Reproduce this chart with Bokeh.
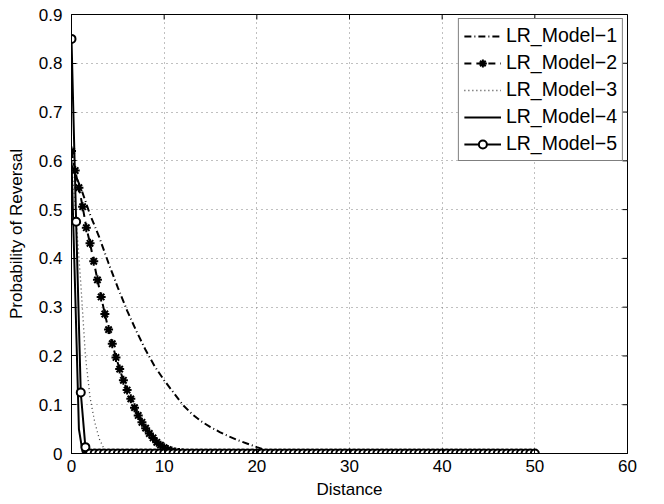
import math
from bokeh.plotting import figure
from bokeh.models import FixedTicker, Range1d
from bokeh.embed import file_html
from bokeh.resources import INLINE

# ---------------- data ----------------
names = ["LR_Model\u22121", "LR_Model\u22122", "LR_Model\u22123", "LR_Model\u22124", "LR_Model\u22125"]

x_ticks = [0, 10, 20, 30, 40, 50, 60]
y_ticks = [0, 0.1, 0.2, 0.3, 0.4, 0.5, 0.6, 0.7, 0.8, 0.9]
y_tick_labels = ["0", "0.1", "0.2", "0.3", "0.4", "0.5", "0.6", "0.7", "0.8", "0.9"]

# sampling grids (distance values)
x1 = [i * 1.0 for i in range(51)]
x2 = [round(i * 0.4, 1) for i in range(101)]
x3 = [round(i * 0.5, 1) for i in range(101)]
x4 = [round(i * 0.4, 1) for i in range(101)]
x5 = [round(i * 0.5, 1) for i in range(101)]

y1 = [0.59, 0.545, 0.49, 0.443, 0.39, 0.34, 0.293, 0.251, 0.212, 0.178,
      0.15, 0.125, 0.1, 0.081, 0.066, 0.054, 0.044, 0.035, 0.027, 0.02,
      0.013, 0.007, 0.003, 0.001, 0, 0, 0, 0, 0, 0,
      0, 0, 0, 0, 0, 0, 0, 0, 0, 0,
      0, 0, 0, 0, 0, 0, 0, 0, 0, 0,
      0]

y2 = [0.62, 0.58, 0.545, 0.506, 0.463, 0.431, 0.394, 0.356, 0.321, 0.286,
      0.254, 0.225, 0.197, 0.173, 0.150, 0.130, 0.112, 0.094, 0.078, 0.064,
      0.052, 0.041, 0.032, 0.023, 0.017, 0.012, 0.008, 0.005, 0.003, 0.002,
      0.001, 0, 0, 0, 0, 0, 0, 0, 0, 0,
      0, 0, 0, 0, 0, 0, 0, 0, 0, 0,
      0, 0, 0, 0, 0, 0, 0, 0, 0, 0,
      0, 0, 0, 0, 0, 0, 0, 0, 0, 0,
      0, 0, 0, 0, 0, 0, 0, 0, 0, 0,
      0, 0, 0, 0, 0, 0, 0, 0, 0, 0,
      0, 0, 0, 0, 0, 0, 0, 0, 0, 0,
      0]

y3 = [0.6, 0.48, 0.35, 0.2, 0.115, 0.065, 0.03, 0.01, 0.002, 0,
      0, 0, 0, 0, 0, 0, 0, 0, 0, 0,
      0, 0, 0, 0, 0, 0, 0, 0, 0, 0,
      0, 0, 0, 0, 0, 0, 0, 0, 0, 0,
      0, 0, 0, 0, 0, 0, 0, 0, 0, 0,
      0, 0, 0, 0, 0, 0, 0, 0, 0, 0,
      0, 0, 0, 0, 0, 0, 0, 0, 0, 0,
      0, 0, 0, 0, 0, 0, 0, 0, 0, 0,
      0, 0, 0, 0, 0, 0, 0, 0, 0, 0,
      0, 0, 0, 0, 0, 0, 0, 0, 0, 0,
      0]

y4 = [0.6, 0.33, 0.05, 0.003, 0, 0, 0, 0, 0, 0,
      0, 0, 0, 0, 0, 0, 0, 0, 0, 0,
      0, 0, 0, 0, 0, 0, 0, 0, 0, 0,
      0, 0, 0, 0, 0, 0, 0, 0, 0, 0,
      0, 0, 0, 0, 0, 0, 0, 0, 0, 0,
      0, 0, 0, 0, 0, 0, 0, 0, 0, 0,
      0, 0, 0, 0, 0, 0, 0, 0, 0, 0,
      0, 0, 0, 0, 0, 0, 0, 0, 0, 0,
      0, 0, 0, 0, 0, 0, 0, 0, 0, 0,
      0, 0, 0, 0, 0, 0, 0, 0, 0, 0,
      0]

y5 = [0.85, 0.475, 0.125, 0.013, 0, 0, 0, 0, 0, 0,
      0, 0, 0, 0, 0, 0, 0, 0, 0, 0,
      0, 0, 0, 0, 0, 0, 0, 0, 0, 0,
      0, 0, 0, 0, 0, 0, 0, 0, 0, 0,
      0, 0, 0, 0, 0, 0, 0, 0, 0, 0,
      0, 0, 0, 0, 0, 0, 0, 0, 0, 0,
      0, 0, 0, 0, 0, 0, 0, 0, 0, 0,
      0, 0, 0, 0, 0, 0, 0, 0, 0, 0,
      0, 0, 0, 0, 0, 0, 0, 0, 0, 0,
      0, 0, 0, 0, 0, 0, 0, 0, 0, 0,
      0]

FONT = "Liberation Sans"
X_MIN, X_MAX = x_ticks[0], x_ticks[-1]
Y_MIN, Y_MAX = y_ticks[0], y_ticks[-1]

p = figure(width=664, height=504, output_backend="svg", toolbar_location=None,
           x_range=Range1d(X_MIN, X_MAX), y_range=Range1d(Y_MIN, Y_MAX),
           min_border_left=71, min_border_right=37, min_border_top=14, min_border_bottom=51,
           x_axis_label="Distance", y_axis_label="Probability of Reversal")
p.background_fill_color = "white"
p.border_fill_color = "white"
p.outline_line_color = "black"
p.outline_line_width = 1

# grid
for g in (p.xgrid, p.ygrid):
    g.grid_line_color = "#808080"
    g.grid_line_dash = "1 4"
    g.grid_line_width = 1
p.xgrid.ticker = FixedTicker(ticks=x_ticks)
p.ygrid.ticker = FixedTicker(ticks=y_ticks)

# main axes
p.xaxis.ticker = FixedTicker(ticks=x_ticks)
p.yaxis.ticker = FixedTicker(ticks=y_ticks)
p.yaxis.major_label_overrides = {t: s for t, s in zip(y_ticks, y_tick_labels)}
for ax in (p.xaxis[0], p.yaxis[0]):
    ax.axis_line_color = "black"
    ax.major_tick_line_color = "black"
    ax.major_tick_in = 5
    ax.major_tick_out = 0
    ax.minor_tick_line_color = None
    ax.major_label_text_font = FONT
    ax.major_label_text_font_size = "17px"
    ax.major_label_text_color = "black"
    ax.axis_label_text_font = FONT
    ax.axis_label_text_font_size = "17px"
    ax.axis_label_text_font_style = "normal"
    ax.axis_label_text_color = "black"
p.xaxis.major_label_standoff = 6
p.xaxis.axis_label_standoff = 5
p.yaxis.major_label_standoff = 9
p.yaxis.axis_label_standoff = 10

# box ticks on the top and right edges (MATLAB "box on")
p.scatter(x_ticks, [Y_MAX] * len(x_ticks), marker="dash", angle=math.pi / 2,
          size=10, line_color="black", line_width=1)
p.scatter([X_MAX] * len(y_ticks), y_ticks, marker="dash", angle=0,
          size=10, line_color="black", line_width=1)

# series
p.line(x1, y1, line_color="black", line_width=2, line_dash="7 3 1 3", legend_label=names[0])
p.line(x2, y2, line_color="black", line_width=2, line_dash="7 5", legend_label=names[1])
p.scatter(x2, y2, marker="asterisk", size=9, line_color="black", line_width=2, legend_label=names[1])
p.line(x3, y3, line_color="#444444", line_width=1.3, line_dash="1 3", legend_label=names[2])
p.line(x4, y4, line_color="black", line_width=2, legend_label=names[3])
p.line(x5, y5, line_color="black", line_width=2, legend_label=names[4])
p.scatter(x5, y5, marker="circle", size=8, line_color="black", line_width=2,
          fill_color="white", legend_label=names[4])

# legend
lg = p.legend[0]
lg.location = "top_right"
lg.margin = 4
lg.padding = 5
lg.spacing = 4
lg.glyph_width = 37
lg.glyph_height = 20
lg.label_height = 20
lg.label_standoff = 5
lg.label_text_font = FONT
lg.label_text_font_size = "19.5px"
lg.label_text_color = "black"
lg.border_line_color = "black"
lg.border_line_width = 1
lg.background_fill_color = "white"
lg.background_fill_alpha = 1

open("out.html", "w").write(file_html(p, INLINE))
